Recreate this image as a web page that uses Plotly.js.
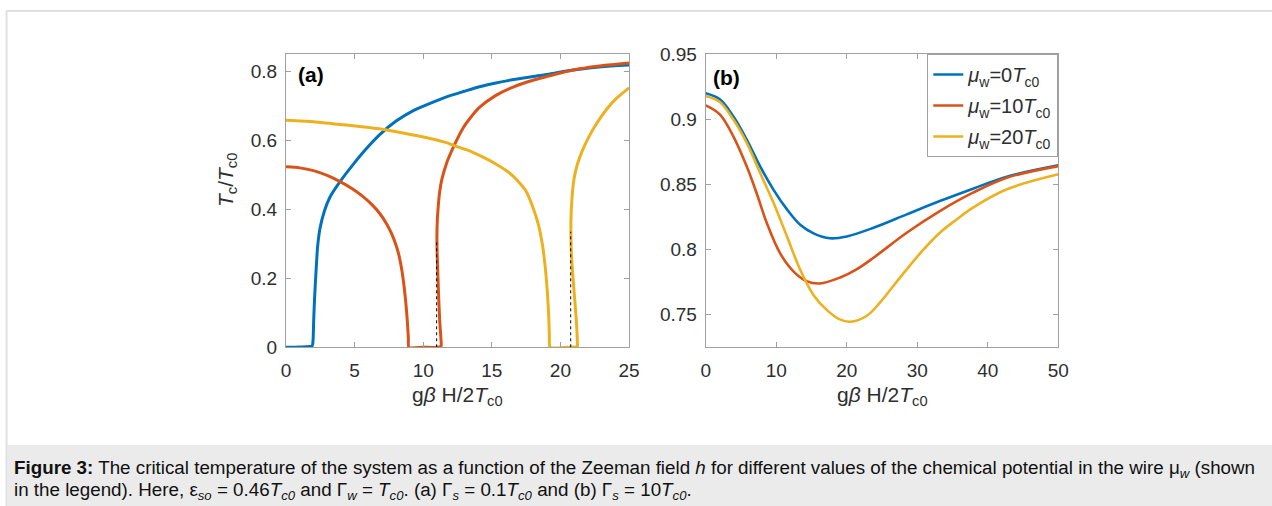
<!DOCTYPE html>
<html>
<head>
<meta charset="utf-8">
<script src="https://cdn.plot.ly/plotly-3.0.1.min.js"></script>
<style>html,body{margin:0;padding:0;background:#fff;}#chart{width:1272px;height:506px;}</style>
</head>
<body>
<div id="chart"></div>
<script>
// ---------- Panel (a): Gamma_s = 0.1 Tc0 ----------
const aBlueX = [0, 1, 1.9, 1.97, 2.02, 2.08, 2.16, 2.3, 2.48, 2.8, 3.2, 3.94, 4.9, 5.8, 6.85, 8, 9.28, 10.5, 11.7, 13, 14.1, 15.3, 16.6, 18, 19.24, 20.2, 21.4, 23, 25];
const aBlueY = [0, 0.001, 0.004, 0.02, 0.08, 0.14, 0.2, 0.29, 0.345, 0.395, 0.435, 0.48, 0.53, 0.573, 0.617, 0.655, 0.686, 0.707, 0.726, 0.742, 0.755, 0.766, 0.776, 0.785, 0.792, 0.799, 0.806, 0.813, 0.818];

const aRedX = [0, 1, 2, 3, 3.94, 4.8, 5.64, 6.3, 6.85, 7.4, 7.82, 8.2, 8.45, 8.62, 8.75, 8.85, 8.92, 8.96, 10, 11, 11.3, 11.3, 11.2, 11.1, 11.02, 11.0, 11.03, 11.1, 11.2, 11.35, 11.7, 12.2, 12.9, 13.5, 14.1, 15.3, 16.6, 18, 19.24, 20, 21.4, 23, 25];
const aRedY = [0.523, 0.52, 0.512, 0.498, 0.48, 0.46, 0.436, 0.412, 0.387, 0.353, 0.318, 0.272, 0.222, 0.172, 0.122, 0.072, 0.025, 0, 0, 0, 0.003, 0.02, 0.079, 0.175, 0.27, 0.32, 0.37, 0.41, 0.45, 0.485, 0.533, 0.58, 0.635, 0.668, 0.695, 0.73, 0.755, 0.774, 0.787, 0.795, 0.807, 0.816, 0.824];

const aYellowX = [0, 2, 4.4, 7.14, 9.28, 10.5, 11.7, 12.3, 13.2, 14.1, 15.35, 16.2, 16.9, 17.5, 18.0, 18.4, 18.7, 18.9, 19.05, 19.15, 19.2, 19.25, 20.5, 21.24, 21.24, 21.16, 20.97, 20.8, 20.77, 20.84, 21.0, 21.25, 21.6, 22.0, 22.5, 23.37, 24.1, 25];
const aYellowY = [0.658, 0.654, 0.644, 0.631, 0.615, 0.605, 0.593, 0.584, 0.572, 0.556, 0.53, 0.508, 0.482, 0.452, 0.405, 0.355, 0.295, 0.23, 0.16, 0.09, 0.03, 0, 0, 0.003, 0.01, 0.079, 0.175, 0.272, 0.368, 0.43, 0.49, 0.532, 0.57, 0.604, 0.64, 0.69, 0.722, 0.752];

// black dotted jump markers in panel (a)
const aJump1X = [10.98, 10.98];
const aJump1Y = [0, 0.31];
const aJump2X = [20.75, 20.75];
const aJump2Y = [0, 0.335];

// ---------- Panel (b): Gamma_s = 10 Tc0 ----------
const bBlueX = [0, 2, 4, 5.8, 7.7, 9.6, 11.5, 13.4, 15.3, 17.6, 20, 23.8, 28.5, 33.2, 37.9, 42.7, 50];
const bBlueY = [0.9198, 0.9152, 0.9015, 0.8845, 0.864, 0.846, 0.831, 0.819, 0.8124, 0.8086, 0.81, 0.8167, 0.827, 0.8372, 0.8467, 0.8559, 0.8646];

const bRedX = [0, 2, 3.9, 5.8, 7.2, 8.65, 10.5, 12.4, 14.3, 16.2, 19, 21.4, 23.8, 28.5, 33.2, 37.9, 42.7, 50];
const bRedY = [0.9106, 0.9037, 0.887, 0.864, 0.8436, 0.8206, 0.7976, 0.7835, 0.7758, 0.774, 0.7784, 0.7848, 0.7937, 0.8129, 0.8295, 0.8436, 0.8551, 0.864];

const bYellowX = [0, 2, 3.9, 5.8, 7.7, 9.6, 11.5, 13.4, 15.3, 17.2, 19, 20.5, 22.8, 24.7, 26.6, 28.5, 30.9, 33.2, 35.6, 37.9, 42.7, 50];
const bYellowY = [0.9178, 0.9132, 0.8999, 0.882, 0.859, 0.836, 0.8104, 0.7845, 0.765, 0.7535, 0.7464, 0.7446, 0.749, 0.7592, 0.772, 0.7848, 0.8001, 0.8129, 0.8231, 0.8321, 0.8462, 0.8577];

const seriesNames = ['<i>μ</i><sub>w</sub>=0<i>T</i><sub>c0</sub>', '<i>μ</i><sub>w</sub>=10<i>T</i><sub>c0</sub>', '<i>μ</i><sub>w</sub>=20<i>T</i><sub>c0</sub>'];
const colors = ['#0072BD', '#D95319', '#EDB120'];

const W = 1272, H = 506;
const px = v => v / W;
const py = v => 1 - v / H;

const FONT = 'Liberation Sans, Arial, Helvetica, sans-serif';
const tickFont = {family: FONT, size: 19, color: '#2e2e2e'};
const axisCol = '#a0a0a0';
const aLine = {width: 3, shape: 'spline', smoothing: 0.6};

const traces = [
  {x: aBlueX, y: aBlueY, xaxis: 'x', yaxis: 'y', mode: 'lines', line: Object.assign({color: colors[0]}, aLine), showlegend: false, hoverinfo: 'skip'},
  {x: aRedX, y: aRedY, xaxis: 'x', yaxis: 'y', mode: 'lines', line: Object.assign({color: colors[1]}, aLine), showlegend: false, hoverinfo: 'skip'},
  {x: aYellowX, y: aYellowY, xaxis: 'x', yaxis: 'y', mode: 'lines', line: Object.assign({color: colors[2]}, aLine), showlegend: false, hoverinfo: 'skip'},
  {x: aJump1X, y: aJump1Y, xaxis: 'x', yaxis: 'y', mode: 'lines', line: {color: '#000', width: 1, dash: 'dot'}, showlegend: false, hoverinfo: 'skip'},
  {x: aJump2X, y: aJump2Y, xaxis: 'x', yaxis: 'y', mode: 'lines', line: {color: '#000', width: 1, dash: 'dot'}, showlegend: false, hoverinfo: 'skip'},
  {x: bBlueX, y: bBlueY, xaxis: 'x2', yaxis: 'y2', mode: 'lines', name: seriesNames[0], legendgroup: 'g0', line: {color: colors[0], width: 2.6, shape: 'spline', smoothing: 1}},
  {x: bRedX, y: bRedY, xaxis: 'x2', yaxis: 'y2', mode: 'lines', name: seriesNames[1], legendgroup: 'g1', line: {color: colors[1], width: 2.6, shape: 'spline', smoothing: 1}},
  {x: bYellowX, y: bYellowY, xaxis: 'x2', yaxis: 'y2', mode: 'lines', name: seriesNames[2], legendgroup: 'g2', line: {color: colors[2], width: 2.6, shape: 'spline', smoothing: 1}}
];

const axBase = {
  showline: true, linecolor: axisCol, linewidth: 1, mirror: 'ticks',
  ticks: 'inside', ticklen: 5, tickwidth: 1, tickcolor: axisCol,
  showgrid: false, zeroline: false, tickfont: tickFont, fixedrange: true
};

const plotTop = 54, plotBot = 347.3;

const layout = {
  width: W, height: H,
  margin: {l: 0, r: 0, t: 0, b: 0},
  paper_bgcolor: '#ffffff', plot_bgcolor: '#ffffff',
  font: {family: FONT, color: '#2e2e2e'},
  xaxis: Object.assign({}, axBase, {domain: [px(286), px(629)], range: [0, 25], dtick: 5, tick0: 0, anchor: 'y', ticklabelstandoff: 6}),
  yaxis: Object.assign({}, axBase, {domain: [py(plotBot), py(plotTop)], range: [0, 0.85], dtick: 0.2, tick0: 0, anchor: 'x', ticklabelstandoff: 4}),
  xaxis2: Object.assign({}, axBase, {domain: [px(705.7), px(1058.3)], range: [0, 50], dtick: 10, tick0: 0, anchor: 'y2', ticklabelstandoff: 6}),
  yaxis2: Object.assign({}, axBase, {domain: [py(plotBot), py(plotTop)], range: [0.725, 0.95], dtick: 0.05, tick0: 0.75, anchor: 'x2', ticklabelstandoff: 4}),
  showlegend: true,
  legend: {
    x: px(1058.3), xanchor: 'right', y: py(54), yanchor: 'top',
    bgcolor: '#ffffff', bordercolor: axisCol, borderwidth: 1,
    font: {family: FONT, size: 20, color: '#2e2e2e'},
    itemwidth: 30, tracegroupgap: 2, traceorder: 'grouped'
  },
  shapes: [
    {type: 'rect', xref: 'paper', yref: 'paper', x0: px(7.5), x1: 1, y0: 0, y1: py(445), fillcolor: '#ebebeb', line: {width: 0}, layer: 'below'},
    {type: 'line', xref: 'paper', yref: 'paper', x0: px(6), x1: 1, y0: py(11), y1: py(11), line: {color: '#e0e0e0', width: 2}},
    {type: 'line', xref: 'paper', yref: 'paper', x0: px(6.5), x1: px(6.5), y0: py(11), y1: 0, line: {color: '#e0e0e0', width: 2}}
  ],
  annotations: [
    {xref: 'paper', yref: 'paper', x: px(311), y: py(74), text: '<b>(a)</b>', showarrow: false, xanchor: 'center', yanchor: 'middle', font: {family: FONT, size: 21, color: '#000'}},
    {xref: 'paper', yref: 'paper', x: px(726), y: py(77), text: '<b>(b)</b>', showarrow: false, xanchor: 'center', yanchor: 'middle', font: {family: FONT, size: 21, color: '#000'}},
    {xref: 'paper', yref: 'paper', x: px(457.5), y: py(396), text: 'g<i>β</i> H/2<i>T</i><sub>c0</sub>', showarrow: false, xanchor: 'center', yanchor: 'middle', font: {family: FONT, size: 21, color: '#2e2e2e'}},
    {xref: 'paper', yref: 'paper', x: px(882), y: py(396), text: 'g<i>β</i> H/2<i>T</i><sub>c0</sub>', showarrow: false, xanchor: 'center', yanchor: 'middle', font: {family: FONT, size: 21, color: '#2e2e2e'}},
    {xref: 'paper', yref: 'paper', x: px(227), y: py(180), text: '<i>T</i><sub>c</sub>/<i>T</i><sub>c0</sub>', textangle: -90, showarrow: false, xanchor: 'center', yanchor: 'middle', font: {family: FONT, size: 21, color: '#2e2e2e'}},
    {xref: 'paper', yref: 'paper', x: px(12), y: py(469), text: '<b>Figure 3:</b> The critical temperature of the system as a function of the Zeeman field <i>h</i> for different values of the chemical potential in the wire μ<sub><i>w</i></sub> (shown', showarrow: false, xanchor: 'left', yanchor: 'middle', align: 'left', font: {family: FONT, size: 18.8, color: '#111111'}},
    {xref: 'paper', yref: 'paper', x: px(12), y: py(491), text: 'in the legend). Here, ε<sub><i>so</i></sub> = 0.46<i>T<sub>c0</sub></i> and Γ<sub><i>w</i></sub> = <i>T<sub>c0</sub></i>. (a) Γ<sub><i>s</i></sub> = 0.1<i>T<sub>c0</sub></i> and (b) Γ<sub><i>s</i></sub> = 10<i>T<sub>c0</sub></i>.', showarrow: false, xanchor: 'left', yanchor: 'middle', align: 'left', font: {family: FONT, size: 18.8, color: '#111111'}}
  ]
};

Plotly.newPlot('chart', traces, layout, {displayModeBar: false, staticPlot: true});
</script>
</body>
</html>
